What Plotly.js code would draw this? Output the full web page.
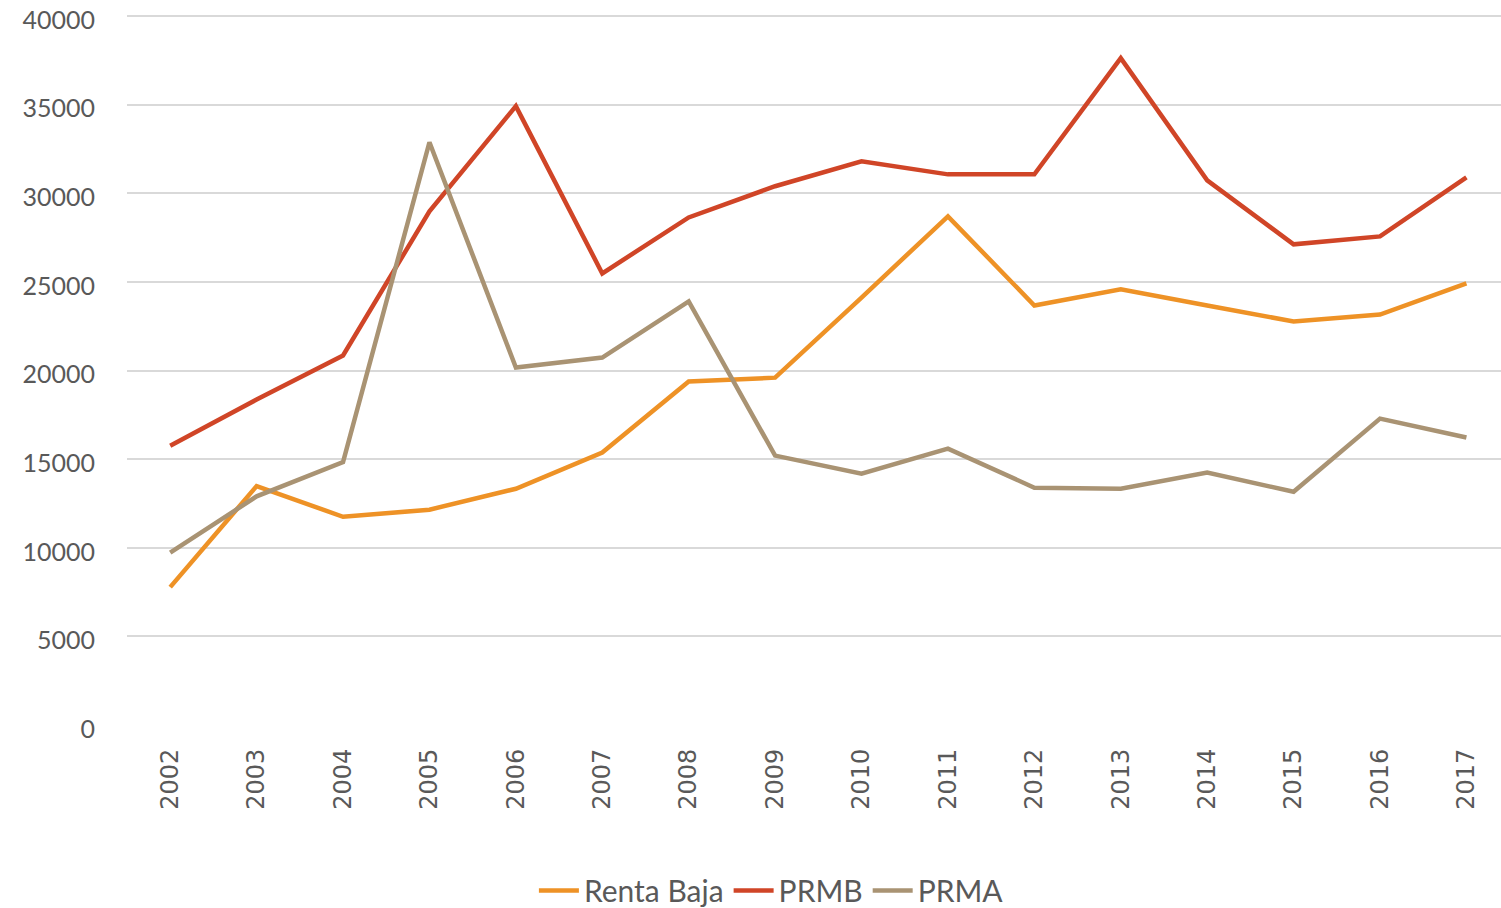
<!DOCTYPE html>
<html>
<head>
<meta charset="utf-8">
<script src="https://cdn.plot.ly/plotly-3.0.1.min.js"></script>
<style>html,body{margin:0;padding:0;background:#fff;}#chart{width:1501px;height:908px;}</style>
</head>
<body>
<div id="chart"></div>
<script>
const years = ["2002","2003","2004","2005","2006","2007","2008","2009","2010","2011","2012","2013","2014","2015","2016","2017"];
const rentaBaja = [7780, 13480, 11750, 12150, 13330, 15370, 19380, 19600, 24120, 28700, 23670, 24580, 23670, 22770, 23160, 24920];
const prmb = [15760, 18360, 20850, 28980, 34920, 25480, 28640, 30400, 31810, 31070, 31070, 37630, 30730, 27120, 27570, 30900];
const prma = [9720, 12900, 14840, 32880, 20170, 20730, 23900, 15200, 14180, 15590, 13390, 13330, 14240, 13160, 17290, 16220];
const seriesNames = ["Renta Baja", "PRMB", "PRMA"];
const seriesColors = ["#EE9226", "#D04527", "#A99373"];
const yTicks = [0,5000,10000,15000,20000,25000,30000,35000,40000];

const allData = [rentaBaja, prmb, prma];
const traces = allData.map((vals, i) => ({
  type: "scatter",
  mode: "lines",
  x: years,
  y: vals,
  name: seriesNames[i],
  line: {color: seriesColors[i], width: 4.5},
  hoverinfo: "skip"
}));

const layout = {
  width: 1501,
  height: 908,
  margin: {l: 127, r: 0, t: 9, b: 183, autoexpand: false},
  paper_bgcolor: "#ffffff",
  plot_bgcolor: "#ffffff",
  showlegend: true,
  legend: {
    orientation: "h",
    x: 0.469, xanchor: "center",
    y: -0.231, yanchor: "middle",
    font: {family: "Lato, 'Open Sans', sans-serif", size: 30, color: "#595959"},
    itemwidth: 40,
    traceorder: "normal"
  },
  xaxis: {
    type: "category",
    range: [-0.5, 15.4],
    showgrid: false,
    zeroline: false,
    showline: false,
    ticks: "",
    tickangle: -90,
    tickfont: {family: "DejaVu Sans, sans-serif", size: 24, color: "#595959"},
    ticklabelstandoff: 18
  },
  yaxis: {
    range: [0, 40400],
    tickvals: yTicks,
    ticktext: yTicks.map(String),
    showgrid: true,
    gridcolor: "#D9D9D9",
    gridwidth: 2,
    zeroline: false,
    showline: false,
    ticks: "",
    ticklabeloverflow: "allow",
    ticklabelshift: 4,
    tickfont: {family: "Lato, 'Open Sans', sans-serif", size: 25, color: "#595959"},
    ticklabelstandoff: 31
  }
};

Plotly.newPlot("chart", traces, layout, {displayModeBar: false, staticPlot: true});
</script>
</body>
</html>
